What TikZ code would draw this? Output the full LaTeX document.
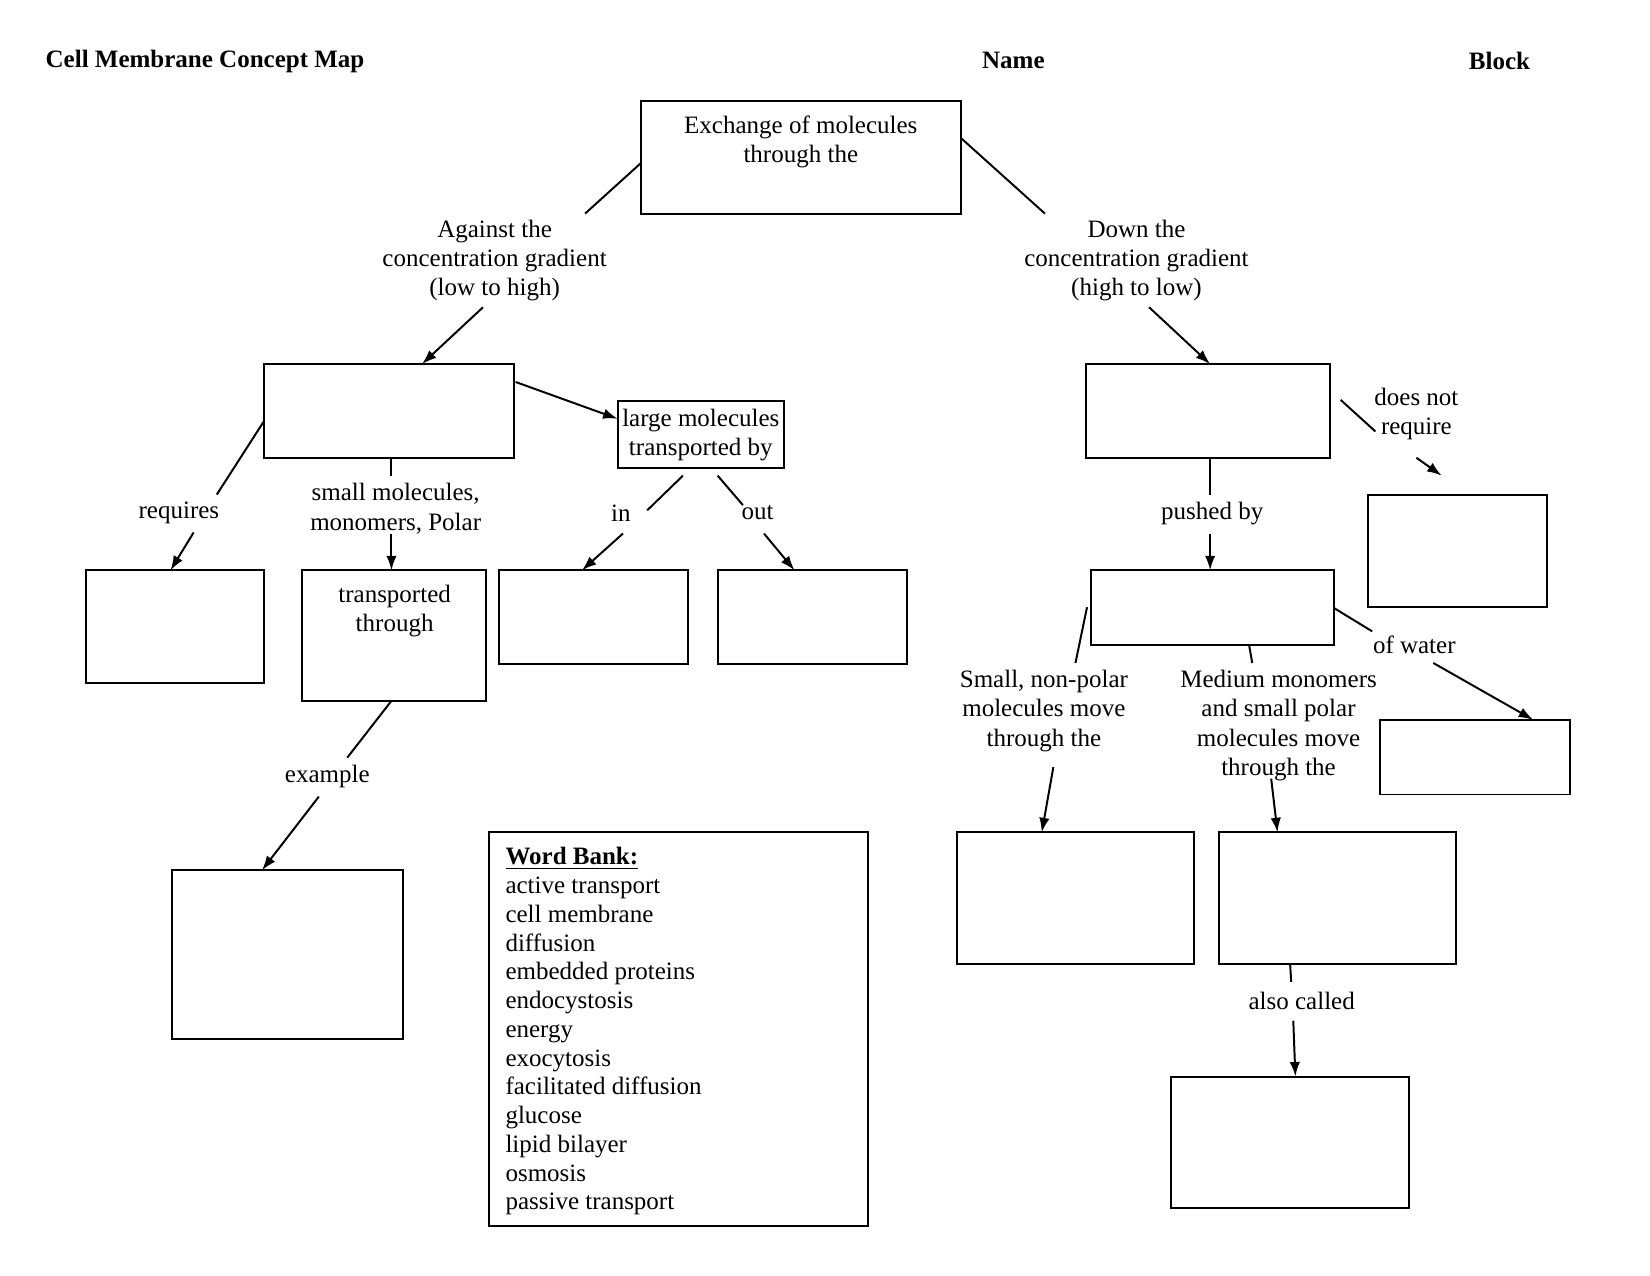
\documentclass[tikz,border=0pt]{standalone}
\usepackage{fontspec}
\setmainfont{Liberation Serif}
\usetikzlibrary{arrows.meta,fit,calc}
\begin{document}
\begin{tikzpicture}[x=0.50510pt,y=-0.50510pt,
  box/.style={draw,line width=0.95pt,inner sep=0pt,outer sep=0pt},
  lbl/.style={inner sep=0pt,align=center,yshift=-1.3pt,font=\fontsize{12}{14.1}\selectfont},
  con/.style={line width=0.95pt},
  arr/.style={line width=0.95pt,-{Latex[length=7pt,width=5pt]}},
 ]
\useasboundingbox (0,0) rectangle (1568,1212);
% header
\node[lbl,anchor=west,font=\fontsize{12}{14}\selectfont\bfseries] (title) at (43,56) {Cell Membrane Concept Map};
\node[lbl,font=\fontsize{12}{14}\selectfont\bfseries] (name) at (963,55) {Name};
\node[lbl,font=\fontsize{12}{14}\selectfont\bfseries] (block) at (1425,55) {Block};
% boxes
\node[box,fit={(609,96) (913,203)}] (top) {};
\node[box,fit={(251,346) (488,435)}] (L1) {};
\node[box,fit={(587,381) (745,445)}] (large) {};
\node[box,fit={(82,542) (251,649)}] (req) {};
\node[box,fit={(287,542) (462,666)}] (trans) {};
\node[box,fit={(163,827) (383,987)}] (ex) {};
\node[box,fit={(474,542) (654,631)}] (in) {};
\node[box,fit={(682,542) (862,631)}] (out) {};
\node[box,fit={(1032,346) (1264,435)}] (R1) {};
\node[box,fit={(1037,542) (1268,613)}] (R2) {};
\node[box,fit={(1300,470) (1470,577)}] (dnr) {};
\node[box,fit={(1311,684) (1492,755)}] (water) {};
\node[box,fit={(909,791) (1135,916)}] (np) {};
\node[box,fit={(1158,791) (1384,916)}] (med) {};
\node[box,fit={(1113,1023) (1339,1148)}] (also) {};
\node[box,fit={(465,791) (825,1165)}] (bank) {};
% texts inside boxes
\node[lbl] (toptxt) at (761,132) {Exchange of molecules\\through the};
\node[lbl] (largetxt) at (666,411) {large molecules\\transported by};
\node[lbl] (transtxt) at (375,578) {transported\\through};
% link labels
\node[lbl] (against) at (470,245) {Against the\\concentration gradient\\(low to high)};
\node[lbl] (down) at (1080,245) {Down the\\concentration gradient\\(high to low)};
\node[lbl] (requires) at (170,485) {requires};
\node[lbl] (small) at (376,481) {small molecules,\\monomers, Polar};
\node[lbl] (example) at (311,735) {example};
\node[lbl] (inl) at (590,485) {in};
\node[lbl] (outl) at (720,485) {out};
\node[lbl] (pushed) at (1152,485) {pushed by};
\node[lbl] (doesnot) at (1346,391) {does not\\[-0.1pt]require};
\node[lbl] (ofwater) at (1344,610) {of water};
\node[lbl] (nonpolar) at (992,673) {Small, non-polar\\molecules move\\through the};
\node[lbl] (medium) at (1215,687) {Medium monomers\\and small polar\\molecules move\\through the};
\node[lbl] (alsol) at (1237,949) {also called};
% word bank
\node[inner sep=0pt,anchor=north west,align=left,font=\fontsize{12}{13.8}\selectfont] (words) at (480,805)
 {\textbf{\underline{Word Bank:}}\\active transport\\cell membrane\\diffusion\\embedded proteins\\endocystosis\\energy\\exocytosis\\facilitated diffusion\\glucose\\lipid bilayer\\osmosis\\passive transport};
% connector free ends
\coordinate (a1) at (556,203);
\coordinate (a2) at (459,292);
\coordinate (b1) at (993,203);
\coordinate (b2) at (1092,292);
\coordinate (r1) at (206,470);
\coordinate (r2) at (184,506);
\coordinate (s1) at (372,452);
\coordinate (s2) at (372,507);
\coordinate (e1) at (330,720);
\coordinate (e2) at (303,757);
\coordinate (i0) at (649,452);
\coordinate (i1) at (615,485);
\coordinate (i2) at (592,507);
\coordinate (o0) at (682,452);
\coordinate (o1) at (706,480);
\coordinate (o2) at (726,507);
\coordinate (p1) at (1150,470);
\coordinate (p2) at (1150,507);
\coordinate (d0) at (1274,380);
\coordinate (d1) at (1307,410);
\coordinate (d2) at (1346,435);
\coordinate (d3) at (1370,452);
\coordinate (w1) at (1304,600);
\coordinate (w2) at (1362,630);
\coordinate (n0) at (1033,577);
\coordinate (n1) at (1022,630);
\coordinate (n2) at (1001,729);
\coordinate (m1) at (1190,630);
\coordinate (m2) at (1208,740);
\coordinate (c1) at (1227,933);
\coordinate (c2) at (1229,970);
% connectors
\draw[con] (top.west |- 0,155) -- (a1);
\draw[arr] (a2) -- (L1.north -| 401,0);
\draw[con] (top.east |- 0,131) -- (b1);
\draw[arr] (b2) -- (R1.north -| 1150,0);
\draw[arr] ($(L1.east |- 0,363)+(2,0)$) -- (large.west |- 0,398);
\draw[con] (L1.west |- 0,400) -- (r1);
\draw[arr] (r2) -- (req.north -| 162,0);
\draw[con] (L1.south -| 372,0) -- (s1);
\draw[arr] (s2) -- (trans.north -| 372,0);
\draw[con] (trans.south -| 372,0) -- (e1);
\draw[arr] (e2) -- (ex.north -| 249,0);
\draw[con] (i0) -- (i1);
\draw[arr] (i2) -- (in.north -| 553,0);
\draw[con] (o0) -- (o1);
\draw[arr] (o2) -- (out.north -| 755,0);
\draw[con] (R1.south -| 1150,0) -- (p1);
\draw[arr] (p2) -- (R2.north -| 1150,0);
\draw[con] (d0) -- (d1);
\draw[arr] (d2) -- (d3);
\draw[con] (R2.east |- 0,578) -- (w1);
\draw[arr] (w2) -- (water.north -| 1457,0);
\draw[con] (n0) -- (n1);
\draw[arr] (n2) -- (np.north -| 990,0);
\draw[con] (R2.south -| 1187,0) -- (m1);
\draw[arr] (m2) -- (med.north -| 1214,0);
\draw[con] (med.south -| 1226,0) -- (c1);
\draw[arr] (c2) -- (also.north -| 1231,0);
\end{tikzpicture}
\end{document}
